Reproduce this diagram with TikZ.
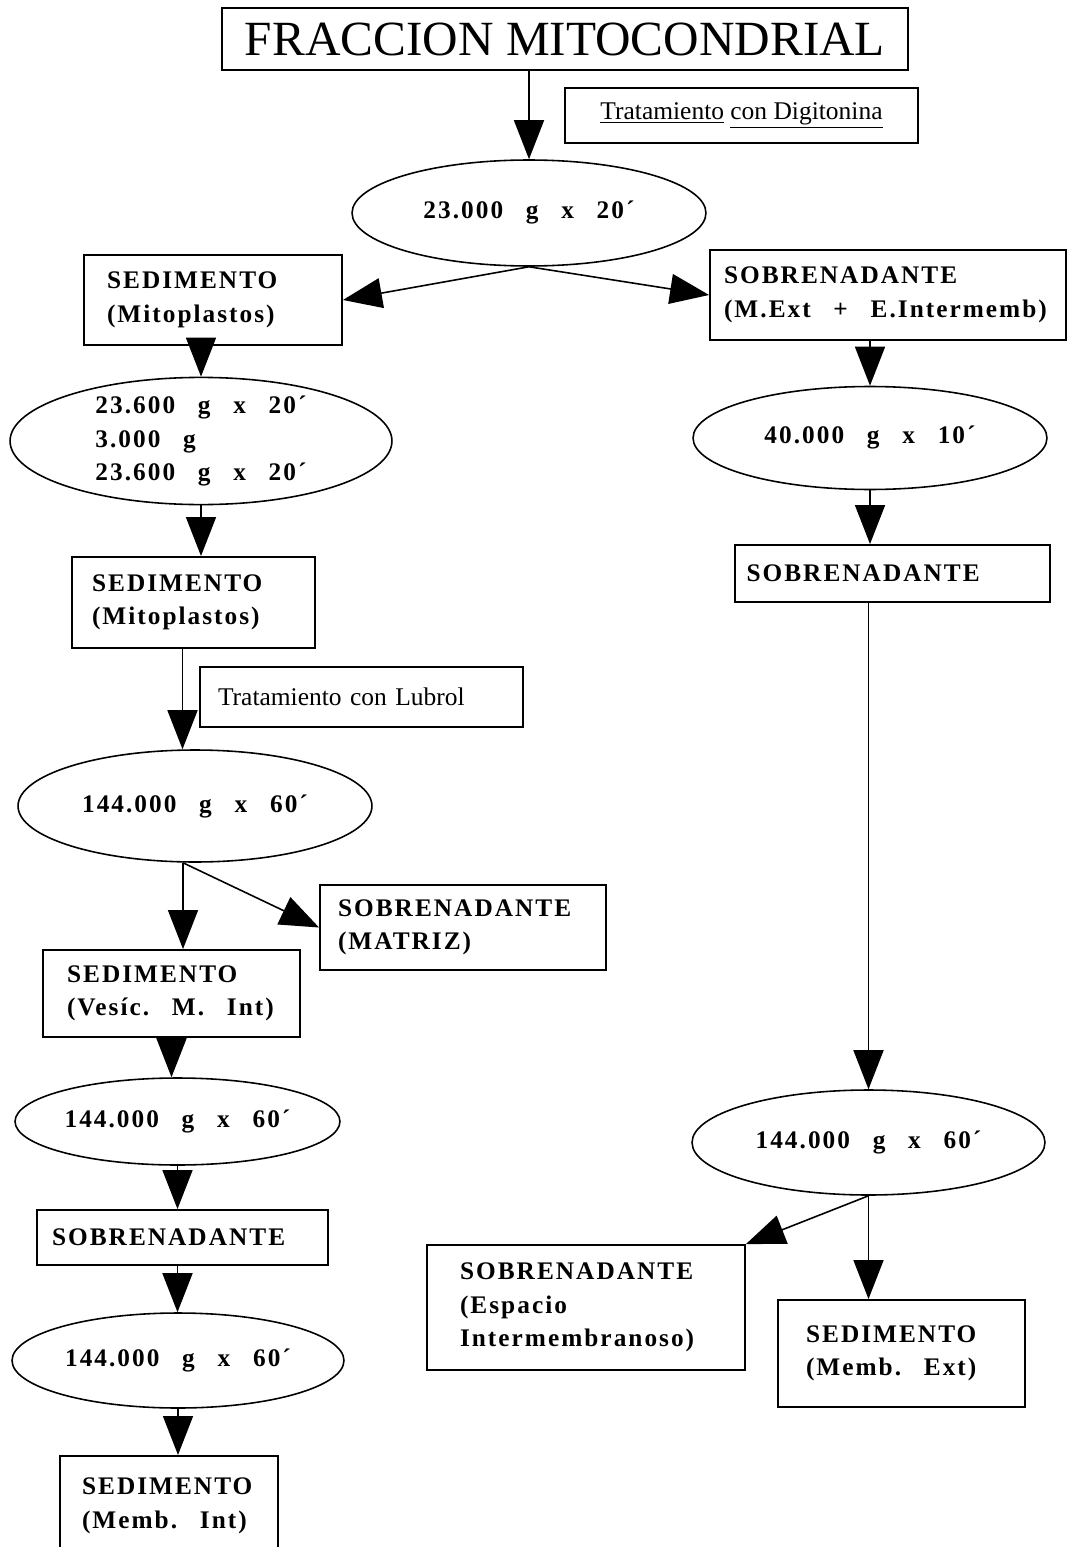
\documentclass[tikz,border=0pt]{standalone}
\usepackage{fontspec}
\setmainfont{Liberation Serif}
\newfontfamily\boxfont{Liberation Serif}[LetterSpace=8]
\newcommand*{\titlefont}{\fontsize{28}{32}\selectfont}
\newcommand*{\labelfont}{\boxfont\bfseries\fontsize{14.4}{19}\selectfont}
\newcommand*{\notefont}{\fontsize{14.5}{17}\selectfont}
\newcommand*{\gsep}{\hspace{0.9em}}
\usetikzlibrary{arrows.meta}
\usetikzlibrary{shapes.geometric}
\tikzstyle{base}=[x=0.02cm, y=-0.02cm, line width=0.9pt]
\tikzstyle{box}=[draw, line width=1.1pt, rectangle, inner sep=0pt, align=left, font=\labelfont]
\tikzstyle{spin}=[draw, ellipse, inner sep=0pt, align=left, font=\labelfont]
\tikzstyle{note}=[draw, line width=1.1pt, rectangle, inner sep=0pt, font=\notefont]
\tikzstyle{arr}=[-{Triangle[length=0.78cm,width=0.6cm]}]

\begin{document}
\begin{tikzpicture}[base]
    \useasboundingbox (0,0) rectangle (1067,1547);
    % top
    \node [note, line width=1.4pt, font=\titlefont, minimum width=13.72cm, minimum height=1.24cm] (title) at (565,39) {FRACCION MITOCONDRIAL};
    \node [note, minimum width=7.06cm, minimum height=1.1cm] (digit) at (741.5,115.5) {\underline{Tratamiento} \underline{con Digitonina}};
    \node [spin, minimum width=7.08cm, minimum height=2.12cm] (spin1) at (529,213) {23.000\gsep g\gsep x\gsep 20´};
    % left column
    \node [box, minimum width=5.16cm, minimum height=1.8cm, text width=4.24cm] (sed1) at (213,300) {SEDIMENTO\\(Mitoplastos)};
    \node [spin, minimum width=7.64cm, minimum height=1.94cm] (spin2) at (201,441) {23.600\gsep g\gsep x\gsep 20´\\3.000\gsep g\\23.600\gsep g\gsep x\gsep 20´};
    \node [box, minimum width=4.86cm, minimum height=1.82cm, text width=4.06cm] (sed2) at (193.5,602.5) {SEDIMENTO\\(Mitoplastos)};
    \node [note, minimum width=6.46cm, minimum height=1.2cm, text width=5.74cm, align=left] (lubrol) at (361.5,697) {Tratamiento con Lubrol};
    \node [spin, minimum width=7.08cm, minimum height=2.24cm] (spin3) at (195,806) {144.000\gsep g\gsep x\gsep 60´};
    \node [box, minimum width=5.72cm, minimum height=1.7cm, text width=5.0cm] (matriz) at (463,927.5) {SOBRENADANTE\\(MATRIZ)};
    \node [box, minimum width=5.14cm, minimum height=1.74cm, text width=4.18cm] (sed3) at (171.5,993.5) {SEDIMENTO\\(Vesíc.\gsep M.\gsep Int)};
    \node [spin, minimum width=6.5cm, minimum height=1.74cm] (spin4) at (177.5,1121.5) {144.000\gsep g\gsep x\gsep 60´};
    \node [box, minimum width=5.82cm, minimum height=1.1cm, text width=5.22cm] (sob4) at (182.5,1237.5) {SOBRENADANTE};
    \node [spin, minimum width=6.64cm, minimum height=1.9cm] (spin5) at (178,1360.5) {144.000\gsep g\gsep x\gsep 60´};
    \node [box, anchor=north, minimum width=4.36cm, minimum height=2.0cm, text width=3.48cm] (sed5) at (169,1455) {SEDIMENTO\\(Memb.\gsep Int)};
    % right column
    \node [box, minimum width=7.12cm, minimum height=1.8cm, text width=6.56cm] (sob1) at (888,295) {SOBRENADANTE\\(M.Ext\gsep +\gsep E.Intermemb)};
    \node [spin, minimum width=7.08cm, minimum height=2.06cm] (spinR1) at (870,438) {40.000\gsep g\gsep x\gsep 10´};
    \node [box, minimum width=6.3cm, minimum height=1.14cm, text width=5.84cm] (sobR2) at (892.5,573.5) {SOBRENADANTE};
    \node [spin, minimum width=7.06cm, minimum height=2.1cm] (spinR2) at (868.5,1142.5) {144.000\gsep g\gsep x\gsep 60´};
    \node [box, minimum width=6.36cm, minimum height=2.5cm, text width=5.04cm] (espacio) at (586,1307.5) {SOBRENADANTE\\(Espacio\\Intermembranoso)};
    \node [box, minimum width=4.94cm, minimum height=2.14cm, text width=3.82cm] (sedME) at (901.5,1353.5) {SEDIMENTO\\(Memb.\gsep Ext)};
    % arrows
    \draw [arr] (title.south -| spin1.north) -- (spin1.north);
    \draw [arr] (spin1.south) -- (sed1.east);
    \draw [arr] (spin1.south) -- (sob1.west);
    \draw [arr] (spin2.north |- sed1.south) -- (spin2.north);
    \draw [arr] (spin2.south) -- (spin2.south |- sed2.north);
    \draw [arr] ([xshift=-0.22cm]sed2.south) -- ([xshift=-0.22cm]sed2.south |- spin3.north);
    \draw [arr] ([xshift=-0.24cm]spin3.south) -- ([xshift=-0.24cm]spin3.south |- sed3.north);
    \draw [arr] ([xshift=-0.24cm]spin3.south) -- (matriz.west);
    \draw [arr] (sed3.south) -- (sed3.south |- spin4.north);
    \draw [arr] (spin4.south) -- (spin4.south |- sob4.north);
    \draw [arr] (sob4.south -| spin4.south) -- (spin4.south |- spin5.north);
    \draw [arr] (spin5.south) -- (spin5.south |- sed5.north);
    \draw [arr] (spinR1.north |- sob1.south) -- (spinR1.north);
    \draw [arr] (spinR1.south) -- (spinR1.south |- sobR2.north);
    \draw [arr] (spinR2.north |- sobR2.south) -- (spinR2.north);
    \draw [arr] (spinR2.south) -- (espacio.north east);
    \draw [arr] (spinR2.south) -- (spinR2.south |- sedME.north);
\end{tikzpicture}
\end{document}
